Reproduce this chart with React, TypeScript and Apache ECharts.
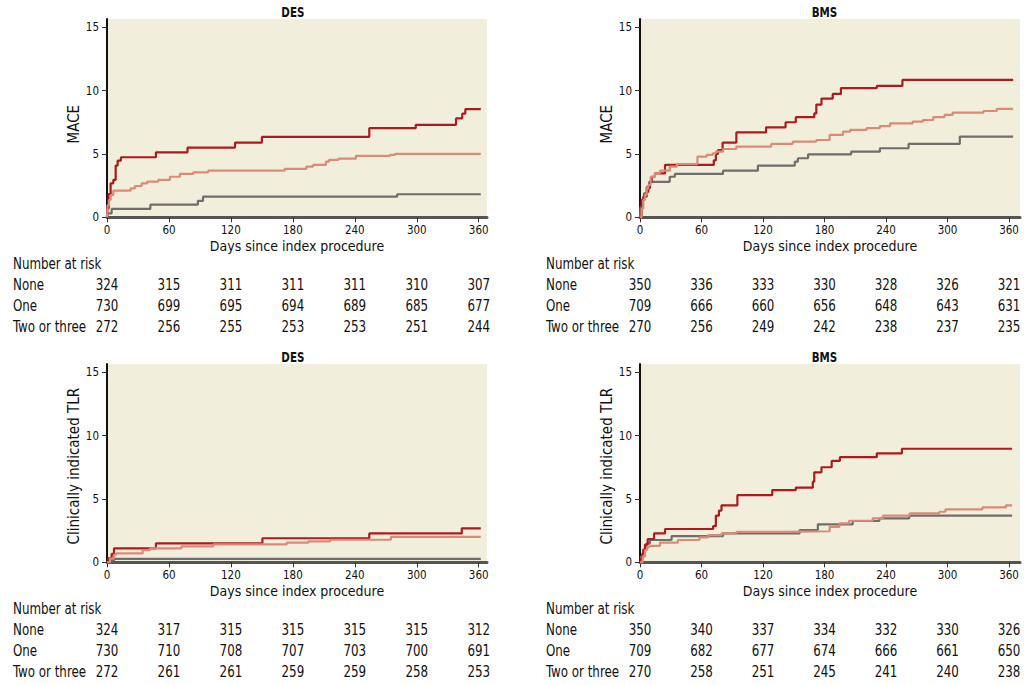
import React, { useEffect, useRef } from 'react';
import * as echarts from 'echarts';

// ---------- data ----------
const riskDays = [0, 60, 120, 180, 240, 300, 360];
const riskGroups = ['None', 'One', 'Two or three'];
const tableRows = ['Number at risk', 'None', 'One', 'Two or three'];
const yTicks = [0, 5, 10, 15];

// DES – MACE
const desMaceNone = [[0, 0], [0.6, 0.31], [4.5, 0.66], [42, 1.0], [88, 1.3], [93, 1.63], [281, 1.82], [362, 1.82]];
const desMaceOne = [[0, 0], [0.6, 0.97], [1.9, 1.37], [3.5, 1.76], [6.1, 2.1], [22.9, 2.29], [27, 2.47], [33.5, 2.68], [39, 2.82], [49.6, 2.95], [61, 3.2], [70.6, 3.42], [83.5, 3.55], [98, 3.68], [172, 3.82], [193, 4.0], [199.5, 4.13], [212, 4.39], [215, 4.53], [224, 4.63], [241, 4.84], [274, 4.92], [279, 5.0], [362, 5.0]];
const desMaceTwo = [[0, 0], [0.3, 0.7], [1.6, 1.84], [3.5, 2.68], [6.1, 2.95], [8.4, 4.08], [10.3, 4.47], [13.5, 4.74], [47.4, 5.13], [78, 5.5], [124, 5.9], [150, 6.34], [254, 7.03], [299, 7.3], [338, 7.8], [344, 8.18], [347, 8.53], [362, 8.53]];

// BMS – MACE
const bmsMaceNone = [[0, 0], [0.6, 0.84], [2.3, 1.37], [3.9, 1.9], [6.5, 2.4], [9.1, 2.8], [29, 3.2], [34, 3.42], [81, 3.68], [115, 4.08], [151, 4.39], [154, 4.66], [164, 4.97], [206, 5.18], [234, 5.45], [262, 5.79], [312, 6.37], [364, 6.37]];
const bmsMaceOne = [[0, 0], [1.6, 0.7], [3.2, 1.37], [4.9, 1.76], [6.5, 2.29], [8.1, 2.55], [10.4, 3.2], [14.6, 3.47], [19.5, 3.68], [29, 4.0], [36, 4.2], [56, 4.79], [65, 4.92], [71, 5.05], [74, 5.18], [81, 5.39], [94, 5.58], [128, 5.79], [149, 5.97], [172, 6.1], [185, 6.5], [198, 6.76], [205, 6.9], [221, 7.03], [234, 7.2], [244, 7.42], [266, 7.55], [276, 7.68], [286, 7.9], [297, 8.08], [305, 8.26], [335, 8.39], [348, 8.55], [364, 8.55]];
const bmsMaceTwo = [[0, 0], [1.6, 1.37], [3.2, 1.63], [6.5, 2.0], [8.1, 2.3], [9.7, 2.8], [11.4, 3.2], [14.6, 3.47], [24.4, 4.13], [72, 4.5], [74, 5.0], [76, 5.3], [80.6, 5.9], [94, 6.7], [123, 7.1], [142, 7.5], [152, 7.9], [170, 8.2], [172, 8.9], [177, 9.37], [188, 9.74], [196, 10.2], [231, 10.37], [256, 10.84], [364, 10.84]];

// DES – clinically indicated TLR
const desTlrNone = [[0, 0], [2.3, 0.15], [6.8, 0.27], [362, 0.27]];
const desTlrOne = [[0, 0], [2.9, 0.3], [6.8, 0.6], [8.7, 0.7], [34.5, 0.95], [41.6, 1.1], [72, 1.25], [103, 1.42], [174, 1.55], [195, 1.65], [216, 1.78], [275, 2.0], [362, 2.0]];
const desTlrTwo = [[0, 0], [1.3, 0.32], [4.5, 0.66], [6.8, 1.1], [47.4, 1.5], [150.5, 1.9], [254, 2.28], [343.6, 2.68], [362, 2.68]];

// BMS – clinically indicated TLR
const bmsTlrNone = [[0, 0], [1, 0.45], [2.3, 0.7], [3.2, 0.97], [4.9, 1.23], [6.5, 1.5], [9.7, 1.76], [30.8, 2.07], [81, 2.28], [155.7, 2.55], [173.5, 3.0], [207.5, 3.26], [233.5, 3.47], [262.7, 3.68], [363, 3.68]];
const bmsTlrOne = [[0, 0], [2.6, 0.45], [4.9, 0.97], [7.1, 1.23], [9.7, 1.3], [19.5, 1.55], [37, 1.76], [58, 1.97], [66.5, 2.15], [79.5, 2.28], [94, 2.4], [139.5, 2.45], [185, 2.8], [194.6, 3.07], [204, 3.28], [227, 3.47], [237, 3.68], [263, 3.86], [292, 3.99], [298, 4.18], [334, 4.33], [357, 4.49], [363, 4.49]];
const bmsTlrTwo = [[0, 0], [1, 0.32], [2.3, 0.7], [3.2, 1.0], [4.9, 1.4], [7.5, 1.84], [13.7, 2.28], [24.4, 2.63], [71.3, 2.85], [74, 3.68], [77, 4.08], [79.5, 4.5], [95, 5.3], [129, 5.7], [152, 5.9], [168.6, 6.36], [170, 7.1], [177, 7.5], [187, 8.0], [195, 8.3], [231, 8.6], [255.5, 8.96], [363, 8.96]];

// numbers at risk
const desMaceRiskNone = [324, 315, 311, 311, 311, 310, 307];
const desMaceRiskOne = [730, 699, 695, 694, 689, 685, 677];
const desMaceRiskTwo = [272, 256, 255, 253, 253, 251, 244];
const bmsMaceRiskNone = [350, 336, 333, 330, 328, 326, 321];
const bmsMaceRiskOne = [709, 666, 660, 656, 648, 643, 631];
const bmsMaceRiskTwo = [270, 256, 249, 242, 238, 237, 235];
const desTlrRiskNone = [324, 317, 315, 315, 315, 315, 312];
const desTlrRiskOne = [730, 710, 708, 707, 703, 700, 691];
const desTlrRiskTwo = [272, 261, 261, 259, 259, 258, 253];
const bmsTlrRiskNone = [350, 340, 337, 334, 332, 330, 326];
const bmsTlrRiskOne = [709, 682, 677, 674, 666, 661, 650];
const bmsTlrRiskTwo = [270, 258, 251, 245, 241, 240, 238];

// ---------- styling ----------
const FONT = '"DejaVu Sans Condensed", "Liberation Sans Narrow", "Liberation Sans", sans-serif';
const COLOR_NONE = '#6e6e6e';
const COLOR_ONE = '#dc8a76';
const COLOR_TWO = '#ad1a1f';
const PLOT_BG = '#f2eedc';
const NARROW = 0.8;

function buildOption() {
  const panels = [
    { title: 'DES', yName: 'MACE', left: 107, top: 19, max: 368, titleY: 12, namePad: 12,
      curves: [desMaceNone, desMaceTwo, desMaceOne], risk: [desMaceRiskNone, desMaceRiskOne, desMaceRiskTwo] },
    { title: 'BMS', yName: 'MACE', left: 640, top: 19, max: 370.7, titleY: 12, namePad: 12,
      curves: [bmsMaceNone, bmsMaceTwo, bmsMaceOne], risk: [bmsMaceRiskNone, bmsMaceRiskOne, bmsMaceRiskTwo] },
    { title: 'DES', yName: 'Clinically indicated TLR', left: 107, top: 364, max: 368, titleY: 357.5, namePad: 6,
      curves: [desTlrNone, desTlrTwo, desTlrOne], risk: [desTlrRiskNone, desTlrRiskOne, desTlrRiskTwo] },
    { title: 'BMS', yName: 'Clinically indicated TLR', left: 640, top: 364, max: 370.7, titleY: 357.5, namePad: 6,
      curves: [bmsTlrNone, bmsTlrTwo, bmsTlrOne], risk: [bmsTlrRiskNone, bmsTlrRiskOne, bmsTlrRiskTwo] },
  ];
  const curveColors = [COLOR_NONE, COLOR_TWO, COLOR_ONE];
  const W = 380;
  const H = 198.3;

  const grid: any[] = [];
  const xAxis: any[] = [];
  const yAxis: any[] = [];
  const series: any[] = [];
  const graphic: any[] = [];

  panels.forEach((p, i) => {
    const gi = i * 2;
    const ti = i * 2 + 1;
    grid.push({ left: p.left, top: p.top, width: W, height: H, show: true, backgroundColor: PLOT_BG, borderWidth: 0 });
    grid.push({ left: p.left, top: p.top + 234.2, width: W, height: 83.2 });

    xAxis.push({
      gridIndex: gi, type: 'value', min: 0, max: p.max,
      name: 'Days since index procedure', nameLocation: 'middle', nameGap: 21.5,
      nameTextStyle: { fontFamily: FONT, fontSize: 14, color: '#111' },
      axisLine: { show: true, lineStyle: { color: '#555', width: 3 } },
      axisTick: { show: true, customValues: riskDays, length: 5, lineStyle: { color: '#333', width: 1 } },
      axisLabel: { customValues: riskDays, margin: 7, fontFamily: FONT, fontSize: 11.5, color: '#111' },
      splitLine: { show: false },
    });
    xAxis.push({ gridIndex: ti, type: 'value', min: 0, max: p.max, show: false });

    yAxis.push({
      gridIndex: gi, type: 'value', min: 0, max: 15.65,
      name: p.yName, nameLocation: 'middle', nameGap: 18,
      nameTextStyle: { fontFamily: FONT, fontSize: 15, color: '#111', padding: [0, p.namePad, 0, 0] },
      axisLine: { show: true, lineStyle: { color: '#111', width: 2 } },
      axisTick: { show: true, customValues: yTicks, length: 5, lineStyle: { color: '#333', width: 1 } },
      axisLabel: { customValues: yTicks, margin: 8, fontFamily: FONT, fontSize: 11.5, color: '#111' },
      splitLine: { show: false },
    });
    yAxis.push({ gridIndex: ti, type: 'category', data: tableRows, inverse: true, show: false });

    p.curves.forEach((c, k) => {
      series.push({
        type: 'line', xAxisIndex: gi, yAxisIndex: gi, data: c, step: 'end',
        symbol: 'none', showSymbol: false, silent: true,
        lineStyle: { color: curveColors[k], width: 2.2 },
        z: 3 + k,
      });
    });

    // number-at-risk table: row labels + counts, positioned through the table grid's axes
    const cells: { day: number; row: number; text: string; label: boolean }[] = [];
    tableRows.forEach((r, rIdx) => cells.push({ day: 0, row: rIdx, text: r, label: true }));
    riskGroups.forEach((g, gIdx) => {
      riskDays.forEach((d, dIdx) => {
        cells.push({ day: d, row: gIdx + 1, text: String(p.risk[gIdx][dIdx]), label: false });
      });
    });
    series.push({
      type: 'custom', xAxisIndex: ti, yAxisIndex: ti, silent: true, clip: false,
      data: cells.map((c) => [c.day, c.row]),
      renderItem: (params: any, api: any) => {
        const c = cells[params.dataIndex];
        const pt = api.coord([api.value(0), api.value(1)]);
        return {
          type: 'text',
          x: pt[0] + (c.label ? -94 : 0),
          y: pt[1],
          scaleX: NARROW,
          style: {
            text: c.text, fill: '#111', fontFamily: FONT, fontSize: 16.5,
            align: c.label ? 'left' : 'center', verticalAlign: 'middle',
          },
        };
      },
    });

    graphic.push({
      type: 'text', x: p.left + (360 / p.max) * W / 2, y: p.titleY, scaleX: 0.85,
      style: {
        text: p.title, fill: '#111', fontFamily: FONT, fontSize: 13.5, fontWeight: 'bold',
        align: 'center', verticalAlign: 'middle',
      },
    });
  });

  return {
    animation: false,
    backgroundColor: '#ffffff',
    textStyle: { fontFamily: FONT },
    grid, xAxis, yAxis, series, graphic,
  };
}

export default function App() {
  const ref = useRef<HTMLDivElement>(null);
  useEffect(() => {
    if (!ref.current) return;
    const chart = echarts.init(ref.current, undefined, { renderer: 'svg' });
    chart.setOption(buildOption());
    return () => chart.dispose();
  }, []);
  return (
    <div
      ref={ref}
      style={{ position: 'fixed', left: 0, top: 0, width: 1033, height: 685 }}
    />
  );
}
